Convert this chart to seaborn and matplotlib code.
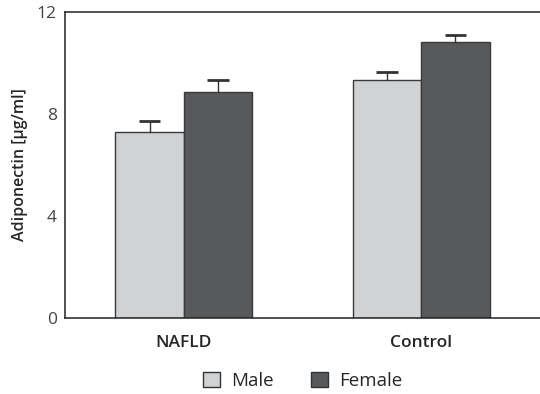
import matplotlib
matplotlib.use("Agg")
import matplotlib.pyplot as plt
import pandas as pd
import seaborn as sns
from matplotlib.patches import Patch

groups = ["NAFLD", "Control"]
sexes = ["Male", "Female"]
male_means = [7.3, 9.33]
female_means = [8.85, 10.83]
male_err = [0.42, 0.3]
female_err = [0.47, 0.27]
colors = {"Male": "#d1d2d4", "Female": "#58595b"}

df = pd.DataFrame(
    {
        "group": groups * 2,
        "sex": ["Male"] * 2 + ["Female"] * 2,
        "value": male_means + female_means,
    }
)
errs = {"Male": male_err, "Female": female_err}

sns.set_style("white")
plt.rcParams["font.family"] = ["Open Sans", "DejaVu Sans"]

fig = plt.figure(figsize=(5.4, 3.94), dpi=100)
ax = fig.add_axes([0.1204, 0.193, 0.8796, 0.7765])

sns.barplot(
    data=df,
    x="group",
    y="value",
    hue="sex",
    order=groups,
    hue_order=sexes,
    palette=colors,
    width=0.575,
    edgecolor="#3a3a3a",
    linewidth=1,
    errorbar=None,
    legend=False,
    ax=ax,
)

# upper-only error bars placed on the drawn bars
for sex, container in zip(sexes, ax.containers):
    for bar, err in zip(container, errs[sex]):
        xc = bar.get_x() + bar.get_width() / 2
        top = bar.get_height()
        ax.plot([xc, xc], [top, top + err], color="#333333", lw=1, zorder=1)
        ax.plot([xc - 0.045, xc + 0.045], [top + err, top + err],
                color="#333333", lw=2, solid_capstyle="butt", zorder=1)

ax.set_xlim(-0.5, 1.5)
ax.set_ylim(0, 12)
ax.set_yticks([0, 4, 8, 12])
ax.set_xticks([0, 1])
ax.set_xticklabels(groups, fontsize=12.5, fontweight="semibold")
ax.set_xticks([0.5], minor=True)
ax.tick_params(axis="x", which="major", length=0, pad=12)
ax.tick_params(axis="x", which="minor", direction="in", length=5, width=1, color="#333333")
ax.tick_params(axis="y", direction="out", length=4, width=0.8, color="#333333",
               labelsize=12.5, labelcolor="#444444", pad=2)
ax.set_xlabel("")
ax.set_ylabel("Adiponectin [µg/ml]", fontsize=11.5, fontweight="semibold", labelpad=6)

for side in ["left", "top", "bottom"]:
    ax.spines[side].set_color("#222222")
    ax.spines[side].set_linewidth(1.1)
ax.spines["right"].set_visible(False)

handles = [Patch(facecolor=colors[s], edgecolor="#333333", linewidth=1, label=s) for s in sexes]
ax.legend(
    handles=handles,
    loc="center",
    bbox_to_anchor=(0.5, -0.205),
    ncol=2,
    frameon=False,
    fontsize=13.5,
    handlelength=0.9,
    handleheight=0.9,
    handletextpad=0.6,
    columnspacing=2.0,
)

fig.savefig("out.png", dpi=100)
